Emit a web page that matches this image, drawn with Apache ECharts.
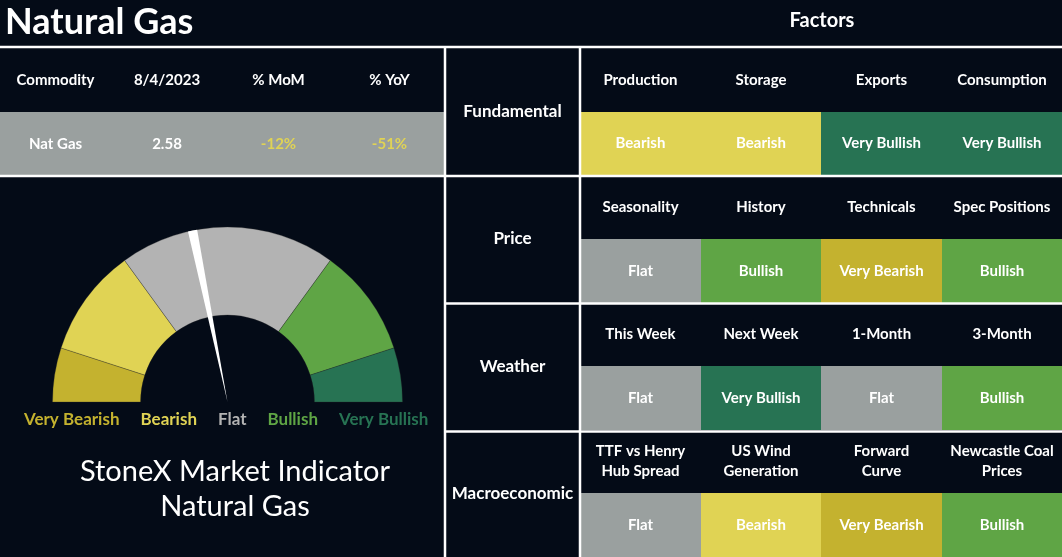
<!DOCTYPE html>
<html><head><meta charset="utf-8">
<script src="https://cdn.jsdelivr.net/npm/echarts@6/dist/echarts.min.js"></script>
<style>html,body{margin:0;padding:0;background:#040b17;}#c{width:1062px;height:557px;}</style>
</head><body><div id="c"></div>
<script>
// ---------- data ----------
const commodityHeaders = ['Commodity', '8/4/2023', '% MoM', '% YoY'];
const commodityValues = ['Nat Gas', '2.58', '-12%', '-51%'];
const groups = ['Fundamental', 'Price', 'Weather', 'Macroeconomic'];
const factorNames = [
  ['Production', 'Storage', 'Exports', 'Consumption'],
  ['Seasonality', 'History', 'Technicals', 'Spec Positions'],
  ['This Week', 'Next Week', '1-Month', '3-Month'],
  ['TTF vs Henry\nHub Spread', 'US Wind\nGeneration', 'Forward\nCurve', 'Newcastle Coal\nPrices']
];
const factorRatings = [
  ['Bearish', 'Bearish', 'Very Bullish', 'Very Bullish'],
  ['Flat', 'Bullish', 'Very Bearish', 'Bullish'],
  ['Flat', 'Very Bullish', 'Flat', 'Bullish'],
  ['Flat', 'Bearish', 'Very Bearish', 'Bullish']
];
const ratingLevels = ['Very Bearish', 'Bearish', 'Flat', 'Bullish', 'Very Bullish'];
const gaugeBandSizes = [1, 2, 4, 2, 1];
const needleValue = 4.36;   // position on the 0..10 gauge scale
const needleWidth = 0.17;

// ---------- styles ----------
const BG = '#040b17';
const FONT = 'Lato, "Open Sans", sans-serif';
const cellColors = {'Very Bearish':'#c4b22f','Bearish':'#e0d354','Flat':'#9aa09f','Bullish':'#5fa545','Very Bullish':'#277353'};
const gaugeColors = {'Very Bearish':'#c4b22f','Bearish':'#e0d354','Flat':'#b3b3b3','Bullish':'#5fa545','Very Bullish':'#277353'};

function cellRender(list) {
  return function (params, api) {
    const c = api.coord([api.value(0), api.value(1)]);
    const s = api.size([1, 1]);
    const d = list[params.dataIndex];
    const x0 = Math.round(c[0] - s[0] / 2), x1 = Math.round(c[0] + s[0] / 2);
    const y0 = Math.round(c[1] - s[1] / 2), y1 = Math.round(c[1] + s[1] / 2);
    return {
      type: 'rect',
      shape: {x: x0, y: y0, width: x1 - x0, height: y1 - y0},
      style: {fill: d.fill},
      textContent: {style: {text: d.text, fill: d.textColor || '#ffffff', font: 'bold ' + (d.size || 15) + 'px ' + FONT, align: 'center', verticalAlign: 'middle', lineHeight: 20}},
      textConfig: {position: 'inside'}
    };
  };
}

// commodity table cells
const commodityCells = [];
commodityHeaders.forEach((h, i) => commodityCells.push({pos: [i, 0], text: h, fill: BG}));
commodityValues.forEach((v, i) => commodityCells.push({pos: [i, 1], text: v, fill: '#9aa09f', textColor: i >= 2 ? '#e0d354' : '#ffffff'}));

// factor cells
const factorCells = [];
factorNames.forEach((row, g) => row.forEach((name, i) => {
  factorCells.push({pos: [i, g * 2], text: name, fill: BG});
  const r = factorRatings[g][i];
  factorCells.push({pos: [i, g * 2 + 1], text: r, fill: cellColors[r]});
}));

// group label cells
const groupCells = groups.map((g, i) => ({pos: [0, i], text: g, fill: BG, size: 17}));

const idx = n => Array.from({length: n}, (_, i) => String(i));
const hiddenAxis = (data) => ({type: 'category', data: data, show: false, boundaryGap: true});

const chart = echarts.init(document.getElementById('c'));
const W = 2.5;
const lineStyle = {stroke: '#fff', lineWidth: W};
chart.setOption({
  backgroundColor: BG,
  animation: false,
  title: [
    {text: 'Natural Gas', left: 0, top: -1, textStyle: {color: '#fff', fontSize: 36, fontWeight: 'bold', fontFamily: FONT}},
    {text: 'Factors', left: 817, top: 6, textAlign: 'center', textStyle: {color: '#fff', fontSize: 20, fontWeight: 'bold', fontFamily: FONT}},
    {text: 'StoneX Market Indicator\nNatural Gas', left: 230, top: 449, textAlign: 'center', textStyle: {color: '#fff', fontSize: 29, fontWeight: 'normal', lineHeight: 35, fontFamily: FONT}}
  ],
  legend: {
    data: ratingLevels.map(r => ({name: r, textStyle: {color: gaugeColors[r]}})),
    icon: 'none', itemWidth: 0, itemGap: 16, left: 14, top: 406,
    selectedMode: false,
    textStyle: {fontSize: 17, fontWeight: 'bold', fontFamily: FONT}
  },
  grid: [
    {left: 0, top: 48, width: 445, height: 128},
    {left: 445, top: 48, width: 135, height: 509},
    {left: 580, top: 48, width: 482, height: 509}
  ],
  xAxis: [
    Object.assign(hiddenAxis(idx(4)), {gridIndex: 0}),
    Object.assign(hiddenAxis(idx(1)), {gridIndex: 1}),
    Object.assign(hiddenAxis(idx(4)), {gridIndex: 2})
  ],
  yAxis: [
    Object.assign(hiddenAxis(idx(2)), {gridIndex: 0, inverse: true}),
    Object.assign(hiddenAxis(idx(4)), {gridIndex: 1, inverse: true}),
    Object.assign(hiddenAxis(idx(8)), {gridIndex: 2, inverse: true})
  ],
  series: [
    {type: 'custom', xAxisIndex: 0, yAxisIndex: 0, silent: true, renderItem: cellRender(commodityCells), data: commodityCells.map(d => d.pos)},
    {type: 'custom', xAxisIndex: 1, yAxisIndex: 1, silent: true, renderItem: cellRender(groupCells), data: groupCells.map(d => d.pos)},
    {type: 'custom', xAxisIndex: 2, yAxisIndex: 2, silent: true, renderItem: cellRender(factorCells), data: factorCells.map(d => d.pos)},
    {
      type: 'pie', center: [227.5, 402], radius: [87, 175], startAngle: 180, clockwise: true, silent: true,
      label: {show: false}, labelLine: {show: false},
      itemStyle: {borderColor: 'rgba(40,40,40,0.6)', borderWidth: 0.5},
      data: ratingLevels.map((r, i) => ({name: r, value: gaugeBandSizes[i], itemStyle: {color: gaugeColors[r]}}))
        .concat([{name: '', value: gaugeBandSizes.reduce((a, b) => a + b, 0), itemStyle: {color: 'rgba(0,0,0,0)', borderWidth: 0}}])
    },
    {
      type: 'pie', center: [227.5, 402], radius: [0, 175], startAngle: 180, clockwise: true, silent: true,
      label: {show: false}, labelLine: {show: false},
      data: [
        {name: 'n0', value: needleValue - needleWidth / 2, itemStyle: {color: 'rgba(0,0,0,0)'}},
        {name: 'needle', value: needleWidth, itemStyle: {color: '#ffffff'}},
        {name: 'n1', value: 20 - needleValue - needleWidth / 2, itemStyle: {color: 'rgba(0,0,0,0)'}}
      ]
    }
  ],
  graphic: {
    type: 'group', z: 100, children: [
      {type: 'line', z: 100, shape: {x1: 0, y1: 47, x2: 1062, y2: 47}, style: lineStyle},
      {type: 'line', z: 100, shape: {x1: 0, y1: 176, x2: 1062, y2: 176}, style: lineStyle},
      {type: 'line', z: 100, shape: {x1: 445, y1: 303.5, x2: 1062, y2: 303.5}, style: lineStyle},
      {type: 'line', z: 100, shape: {x1: 445, y1: 431.5, x2: 1062, y2: 431.5}, style: lineStyle},
      {type: 'line', z: 100, shape: {x1: 445, y1: 47, x2: 445, y2: 557}, style: lineStyle},
      {type: 'line', z: 100, shape: {x1: 580, y1: 47, x2: 580, y2: 557}, style: lineStyle}
    ]
  }
});
</script></body></html>
